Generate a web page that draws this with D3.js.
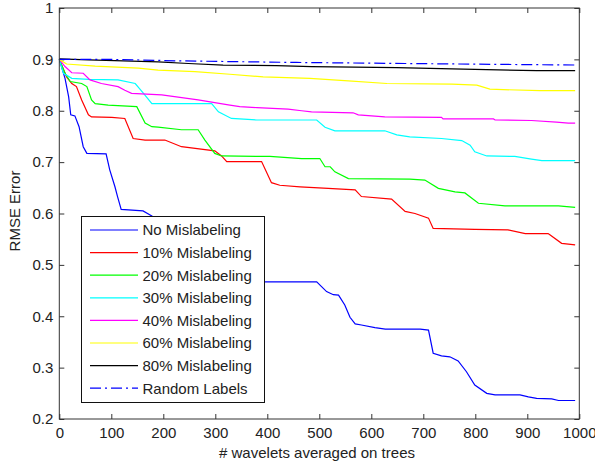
<!DOCTYPE html>
<html>
<head>
<meta charset="utf-8">
<script src="https://cdn.jsdelivr.net/npm/d3@7.9.0/dist/d3.min.js"></script>
<style>
  body { margin: 0; background: #fff; }
  svg { display: block; font-family: 'Liberation Sans', Arial, sans-serif; }
  .tick text { font-size: 15px; fill: #222; }
  .tick line { stroke: #333; }
</style>
</head>
<body>
<div id="chart"></div>
<script>
// values, [trees, rmse]
const noMislabel = [[0,0.9],[11,0.863],[18,0.827],[22,0.792],[30,0.79],[38,0.769],[46,0.73],[53,0.717],[90,0.716],[97,0.685],[107,0.652],[112,0.633],[119,0.608],[161,0.605],[178,0.595],[200,0.585],[235,0.56],[260,0.53],[300,0.505],[340,0.48],[380,0.467],[495,0.467],[514,0.448],[527,0.442],[537,0.441],[549,0.422],[559,0.398],[569,0.385],[581,0.383],[607,0.378],[627,0.375],[694,0.375],[710,0.373],[719,0.328],[735,0.323],[751,0.321],[767,0.313],[783,0.292],[799,0.266],[822,0.25],[838,0.247],[886,0.247],[902,0.243],[918,0.24],[947,0.239],[960,0.236],[992,0.236]];
const mis10 = [[0,0.9],[14,0.866],[24,0.853],[33,0.847],[43,0.821],[56,0.792],[62,0.788],[101,0.787],[126,0.785],[142,0.746],[165,0.743],[203,0.743],[235,0.73],[299,0.722],[312,0.712],[322,0.701],[389,0.701],[408,0.66],[424,0.655],[463,0.652],[517,0.649],[569,0.646],[581,0.633],[639,0.628],[665,0.604],[684,0.6],[710,0.591],[719,0.571],[799,0.569],[863,0.568],[896,0.561],[940,0.561],[944,0.558],[966,0.542],[992,0.539]];
const mis20 = [[0,0.9],[11,0.873],[21,0.857],[43,0.853],[53,0.847],[62,0.821],[69,0.814],[94,0.811],[149,0.808],[165,0.776],[178,0.769],[190,0.768],[235,0.763],[267,0.763],[280,0.743],[299,0.717],[312,0.712],[405,0.711],[466,0.707],[501,0.707],[511,0.691],[521,0.691],[530,0.681],[556,0.668],[674,0.667],[703,0.665],[729,0.649],[761,0.642],[780,0.64],[806,0.62],[857,0.615],[960,0.615],[992,0.612]];
const mis30 = [[0,0.9],[8,0.873],[24,0.863],[56,0.861],[113,0.86],[146,0.853],[162,0.834],[178,0.814],[293,0.814],[306,0.798],[331,0.785],[380,0.782],[495,0.782],[511,0.768],[530,0.761],[626,0.761],[649,0.753],[674,0.749],[735,0.746],[774,0.742],[790,0.733],[799,0.72],[822,0.712],[876,0.711],[908,0.706],[928,0.703],[992,0.703]];
const mis40 = [[0,0.9],[11,0.886],[24,0.874],[46,0.873],[59,0.86],[81,0.853],[113,0.847],[126,0.84],[139,0.834],[197,0.831],[267,0.821],[328,0.811],[347,0.808],[380,0.806],[440,0.803],[466,0.8],[485,0.798],[565,0.796],[575,0.792],[626,0.788],[735,0.787],[738,0.784],[835,0.784],[838,0.782],[908,0.781],[956,0.778],[979,0.776],[992,0.776]];
const mis60 = [[0,0.9],[14,0.891],[69,0.887],[152,0.883],[190,0.879],[261,0.876],[328,0.871],[392,0.866],[482,0.863],[556,0.858],[630,0.853],[755,0.852],[803,0.85],[828,0.842],[924,0.839],[992,0.839]];
const mis80 = [[0,0.901],[56,0.899],[190,0.895],[248,0.892],[315,0.889],[418,0.888],[485,0.886],[649,0.884],[777,0.881],[918,0.878],[992,0.878]];
const randomLabels = [[0,0.9],[100,0.9],[235,0.897],[456,0.894],[665,0.892],[876,0.89],[992,0.889]];

const seriesNames = ['No Mislabeling', '10% Mislabeling', '20% Mislabeling', '30% Mislabeling',
  '40% Mislabeling', '60% Mislabeling', '80% Mislabeling', 'Random Labels'];
const seriesData = [noMislabel, mis10, mis20, mis30, mis40, mis60, mis80, randomLabels];
const seriesColors = ['#0000ff', '#ff0000', '#00ff00', '#00ffff', '#ff00ff', '#ffff00', '#000000', '#0000ff'];

const xTicks = [0, 100, 200, 300, 400, 500, 600, 700, 800, 900, 1000];
const yTicks = [0.2, 0.3, 0.4, 0.5, 0.6, 0.7, 0.8, 0.9, 1];

const width = 595;
const height = 468;
const margin = { top: 8, right: 15.7, bottom: 49, left: 59.3 };

const svg = d3.select('#chart')
  .append('svg')
  .attr('width', width)
  .attr('height', height);

const x = d3.scaleLinear().domain([0, 1000]).range([margin.left, width - margin.right]);
const y = d3.scaleLinear().domain([0.2, 1]).range([height - margin.bottom, margin.top]);

const fmtX = d3.format('d');
const fmtY = (d) => (d === 1 ? '1' : d3.format('.1f')(d));

// axes, ticks pointing inward like matlab
svg.append('g')
  .attr('transform', `translate(0, ${y.range()[0]})`)
  .call(d3.axisBottom(x).tickValues(xTicks).tickFormat(fmtX).tickSizeInner(-5).tickSizeOuter(0).tickPadding(8))
  .call((g) => g.select('.domain').remove());

svg.append('g')
  .attr('transform', `translate(0, ${margin.top})`)
  .call(d3.axisTop(x).tickValues(xTicks).tickSizeInner(-5).tickSizeOuter(0).tickFormat(''))
  .call((g) => g.select('.domain').remove());

svg.append('g')
  .attr('transform', `translate(${margin.left}, 0)`)
  .call(d3.axisLeft(y).tickValues(yTicks).tickFormat(fmtY).tickSizeInner(-5).tickSizeOuter(0).tickPadding(6))
  .call((g) => g.select('.domain').remove());

svg.append('g')
  .attr('transform', `translate(${x.range()[1]}, 0)`)
  .call(d3.axisRight(y).tickValues(yTicks).tickSizeInner(-5).tickSizeOuter(0).tickFormat(''))
  .call((g) => g.select('.domain').remove());

svg.selectAll('.tick text').attr('font-size', 15).attr('font-family', null);

const line = d3.line()
  .x((d) => x(d[0]))
  .y((d) => y(d[1]));

svg.append('g')
  .selectAll('path')
  .data(seriesData)
  .join('path')
  .attr('d', line)
  .attr('fill', 'none')
  .attr('stroke', (d, i) => seriesColors[i])
  .attr('stroke-width', 1.2)
  .attr('stroke-dasharray', (d, i) => (i === 7 ? '11,4,2,4' : null));

svg.append('rect')
  .attr('x', x.range()[0])
  .attr('y', margin.top)
  .attr('width', x.range()[1] - x.range()[0])
  .attr('height', y.range()[0] - margin.top)
  .attr('fill', 'none')
  .attr('stroke', '#333')
  .attr('stroke-width', 1);

// legend
const legend = svg.append('g');
legend.append('rect')
  .attr('x', 81.5)
  .attr('y', 216.5)
  .attr('width', 183)
  .attr('height', 186)
  .attr('fill', '#fff')
  .attr('stroke', '#111')
  .attr('stroke-width', 1);

const rows = legend.selectAll('g.row')
  .data(seriesNames)
  .join('g')
  .attr('class', 'row')
  .attr('transform', (d, i) => `translate(0, ${230 + i * 22.6})`);

rows.append('line')
  .attr('x1', 90)
  .attr('x2', 138)
  .attr('stroke', (d, i) => seriesColors[i])
  .attr('stroke-width', 1.2)
  .attr('stroke-dasharray', (d, i) => (i === 7 ? '11,4,2,4' : null));

rows.append('text')
  .attr('x', 142.5)
  .attr('dy', '0.36em')
  .attr('font-size', 15)
  .attr('fill', '#222')
  .text((d) => d);

svg.append('text')
  .attr('x', 317)
  .attr('y', 458)
  .attr('text-anchor', 'middle')
  .attr('font-size', 15)
  .attr('fill', '#222')
  .text('# wavelets averaged on trees');

svg.append('text')
  .attr('transform', 'translate(15, 211) rotate(-90)')
  .attr('text-anchor', 'middle')
  .attr('dy', '0.36em')
  .attr('font-size', 15)
  .attr('fill', '#222')
  .text('RMSE Error');
</script>
</body>
</html>
